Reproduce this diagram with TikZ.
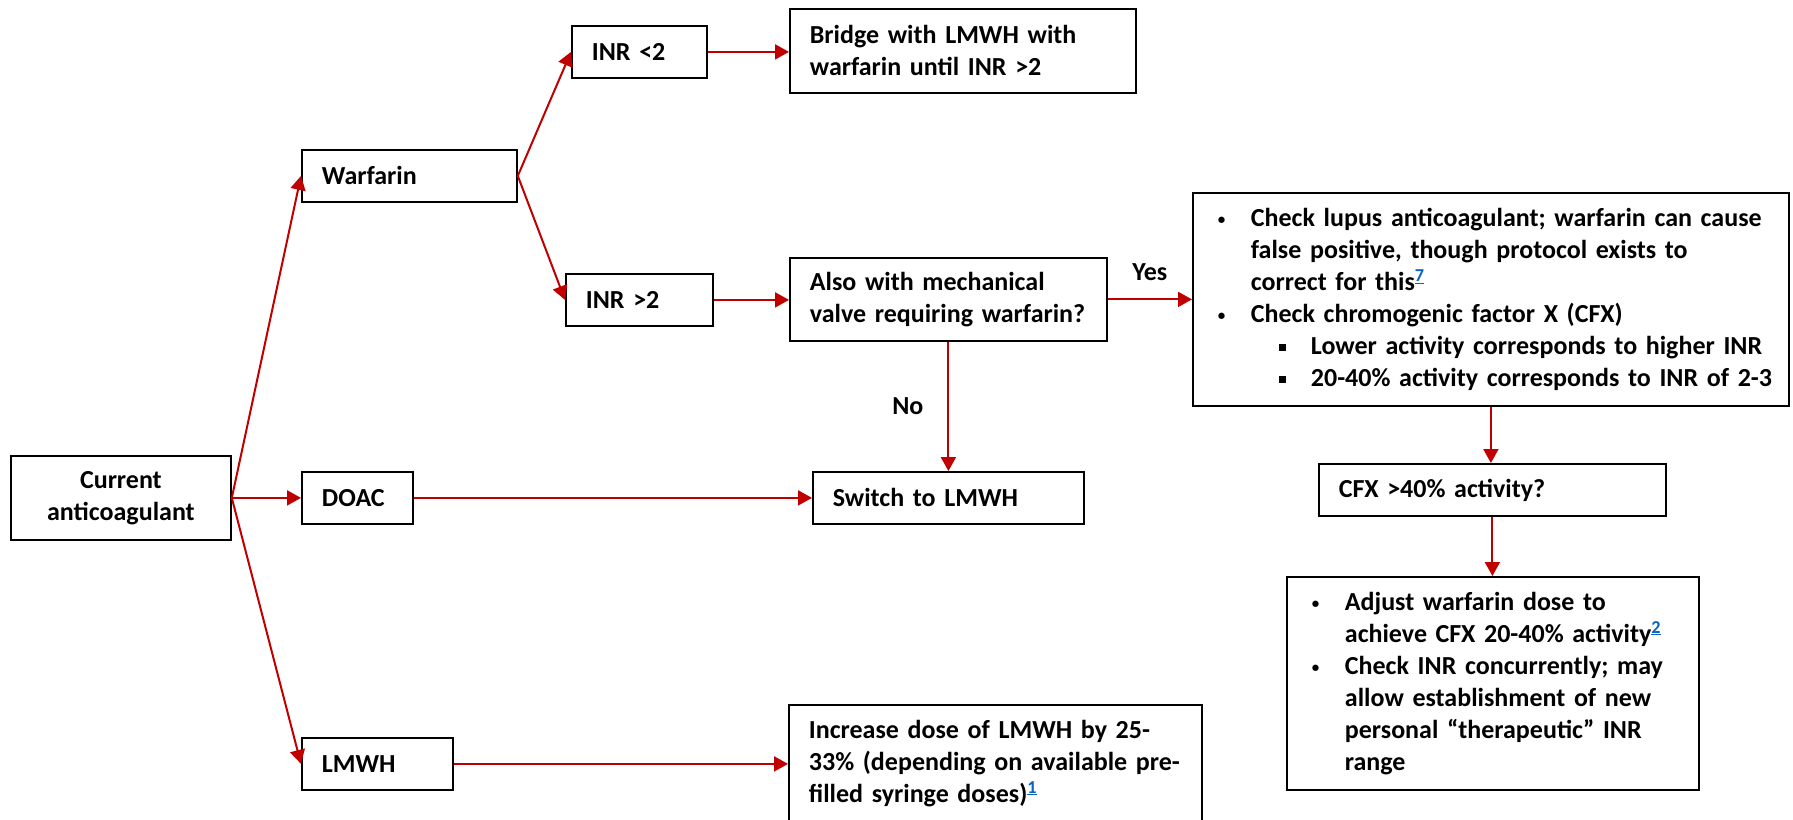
\documentclass[tikz,border=0pt]{standalone}
\usepackage{fontspec}
\setmainfont{Carlito}
\usepackage{xcolor}
\usepackage{tikz}
\usetikzlibrary{arrows.meta}
\definecolor{arrowred}{HTML}{C00000}
\definecolor{linkblue}{HTML}{0563C1}

\newcommand{\smallbul}{\raisebox{2pt}{\fontsize{15}{15}\selectfont\textbullet}}
\newcommand{\bul}[1]{\mbox{\makebox[33pt][l]{\smallbul}#1}}
\newcommand{\ind}[1]{\mbox{\hspace*{33pt}#1}}
\newcommand{\sqbul}[1]{\mbox{\hspace*{61pt}\makebox[32pt][l]{\raisebox{3pt}{\rule{7pt}{7pt}}}#1}}
\newcommand{\fnref}[1]{\textsuperscript{\color{linkblue}\underline{#1}}}

\tikzset{
  box/.style={draw, line width=1.8pt, anchor=north west, align=left,
    inner xsep=20pt, inner ysep=0pt, font=\fontsize{26}{32}\selectfont\bfseries},
  flow/.style={draw=arrowred, line width=2pt, -{Triangle[length=14pt,width=15pt]}},
  lbl/.style={inner sep=0pt, font=\fontsize{26}{32}\selectfont\bfseries}
}

\begin{document}
\begin{tikzpicture}[x=1pt, y=-1pt]
  \clip (0,0) rectangle (1793,819);

  % First column
  \node[box, align=center, text width=180pt, minimum height=84pt] (cur) at (10,455) {Current\\anticoagulant};

  % Second column
  \node[box, text width=175pt, minimum height=52pt] (warf) at (301,149) {Warfarin};
  \node[box, text width=71pt, minimum height=52pt] (doac) at (301,471) {DOAC};
  \node[box, text width=111pt, minimum height=52pt] (lmwh) at (301,737) {LMWH};

  % INR split
  \node[box, text width=95pt, minimum height=52pt] (inrlo) at (571,25) {INR <2};
  \node[box, text width=107pt, minimum height=52pt] (inrhi) at (565,273) {INR >2};

  % Actions
  \node[box, text width=306pt, minimum height=84pt] (bridge) at (789,8) {Bridge with LMWH with\\warfarin until INR >2};
  \node[box, text width=277pt, minimum height=83pt] (also) at (789,257) {Also with mechanical\\valve requiring warfarin?};
  \node[box, text width=231pt, minimum height=52pt] (switch) at (812,471) {Switch to LMWH};
  \node[box, text width=373pt, inner ysep=15pt] (incr) at (788,704) {Increase dose of LMWH by 25-\\33\% (depending on available pre-\\filled syringe doses)\fnref{1}};

  % Right column
  \node[box, inner xsep=25pt, text width=546pt, minimum height=213pt] (lupus) at (1192,192)
    {\bul{Check lupus anticoagulant; warfarin can cause}\\
     \ind{false positive, though protocol exists to}\\
     \ind{correct for this\fnref{7}}\\
     \bul{Check chromogenic factor X (CFX)}\\
     \sqbul{Lower activity corresponds to higher INR}\\
     \sqbul{20-40\% activity corresponds to INR of 2-3}};
  \node[box, text width=307pt, minimum height=52pt] (cfx) at (1318,463) {CFX >40\% activity?};
  \node[box, inner xsep=25pt, text width=362pt, minimum height=213pt] (adjust) at (1286,576)
    {\bul{Adjust warfarin dose to}\\
     \ind{achieve CFX 20-40\% activity\fnref{2}}\\
     \bul{Check INR concurrently; may}\\
     \ind{allow establishment of new}\\
     \ind{personal “therapeutic” INR}\\
     \ind{range}};

  % Arrows
  \draw[flow] (cur.east) -- (warf.west);
  \draw[flow] (cur.east) -- (doac.west);
  \draw[flow] (cur.east) -- (lmwh.west);
  \draw[flow] (warf.east) -- (inrlo.west);
  \draw[flow] (warf.east) -- (inrhi.west);
  \draw[flow] (inrlo.east) -- (inrlo.east -| bridge.west);
  \draw[flow] (inrhi.east) -- (inrhi.east -| also.west);
  \draw[flow] (also.east) -- node[lbl, above=18pt] {Yes} (also.east -| lupus.west);
  \draw[flow] (also.south) -- node[lbl, left=24pt] {No} (also.south |- switch.north);
  \draw[flow] (doac.east) -- (doac.east -| switch.west);
  \draw[flow] (lmwh.east) -- (lmwh.east -| incr.west);
  \draw[flow] (lupus.south) -- (lupus.south |- cfx.north);
  \draw[flow] (cfx.south) -- (cfx.south |- adjust.north);

\end{tikzpicture}
\end{document}
